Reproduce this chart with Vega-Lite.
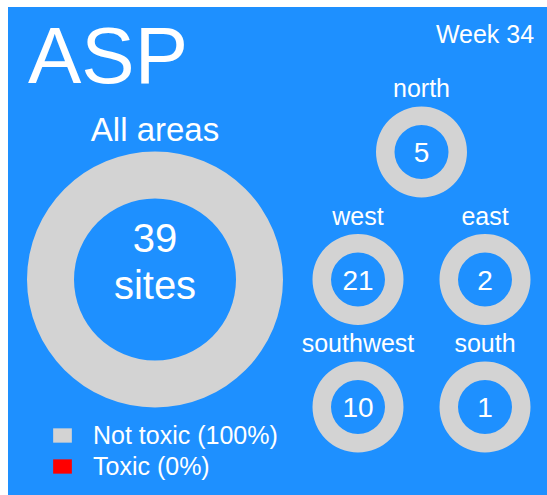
{
  "$schema": "https://vega.github.io/schema/vega-lite/v6.json",
  "width": 547,
  "height": 495,
  "autosize": {"type": "fit", "contains": "padding"},
  "padding": {"left": 8, "top": 7, "right": 0, "bottom": 0},
  "background": "white",
  "config": {
    "view": {"stroke": null, "fill": "#1E90FF"},
    "text": {"font": "Liberation Sans", "color": "white"}
  },
  "datasets": {
    "sites": [
      {"area": "All areas", "col": 0, "row": 1, "status": "Not toxic (100%)", "sites": 39},
      {"area": "All areas", "col": 0, "row": 1, "status": "Toxic (0%)", "sites": 0},
      {"area": "north", "col": 2, "row": 0, "status": "Not toxic (100%)", "sites": 5},
      {"area": "north", "col": 2, "row": 0, "status": "Toxic (0%)", "sites": 0},
      {"area": "west", "col": 1, "row": 1, "status": "Not toxic (100%)", "sites": 21},
      {"area": "west", "col": 1, "row": 1, "status": "Toxic (0%)", "sites": 0},
      {"area": "east", "col": 3, "row": 1, "status": "Not toxic (100%)", "sites": 2},
      {"area": "east", "col": 3, "row": 1, "status": "Toxic (0%)", "sites": 0},
      {"area": "southwest", "col": 1, "row": 2, "status": "Not toxic (100%)", "sites": 10},
      {"area": "southwest", "col": 1, "row": 2, "status": "Toxic (0%)", "sites": 0},
      {"area": "south", "col": 3, "row": 2, "status": "Not toxic (100%)", "sites": 1},
      {"area": "south", "col": 3, "row": 2, "status": "Toxic (0%)", "sites": 0}
    ],
    "header": [{"indicator": "ASP", "week": "Week 34"}]
  },
  "layer": [
    {
      "data": {"name": "sites"},
      "transform": [
        {"stack": "sites", "groupby": ["area"], "offset": "normalize", "sort": [{"field": "status", "order": "ascending"}], "as": ["t0", "t1"]}
      ],
      "encoding": {
        "x": {"field": "col", "type": "quantitative", "scale": {"domain": [0, 1, 3], "range": [147, 350, 477], "nice": false, "zero": false}, "axis": null},
        "y": {"field": "row", "type": "quantitative", "scale": {"domain": [0, 2], "range": [145, 400], "nice": false, "zero": false}, "axis": null},
        "theta": {"field": "t0", "type": "quantitative", "scale": {"domain": [0, 1], "range": [0, 6.283185307179586]}},
        "theta2": {"field": "t1"},
        "color": {
          "field": "status",
          "type": "nominal",
          "scale": {"domain": ["Not toxic (100%)", "Toxic (0%)"], "range": ["#D3D3D3", "#FF0000"]},
          "legend": {
            "orient": "none",
            "legendX": 42,
            "legendY": 416,
            "title": null,
            "symbolType": "M-1,-0.765H1V0.765H-1Z",
            "symbolSize": 350,
            "symbolStrokeWidth": 0,
            "labelColor": "white",
            "labelFont": "Liberation Sans",
            "labelFontSize": 25,
            "labelOffset": 18,
            "rowPadding": 5,
            "labelLimit": 400
          }
        }
      },
      "layer": [
        {
          "transform": [{"filter": "datum.area === 'All areas'"}],
          "mark": {"type": "arc", "outerRadius": 128, "innerRadius": 81}
        },
        {
          "transform": [{"filter": "datum.area !== 'All areas'"}],
          "mark": {"type": "arc", "outerRadius": 45.5, "innerRadius": 27}
        }
      ]
    },
    {
      "data": {"name": "sites"},
      "transform": [
        {"aggregate": [{"op": "sum", "field": "sites", "as": "total"}], "groupby": ["area", "col", "row"]}
      ],
      "encoding": {
        "x": {"field": "col", "type": "quantitative"},
        "y": {"field": "row", "type": "quantitative"}
      },
      "layer": [
        {
          "transform": [{"filter": "datum.area !== 'All areas'"}],
          "mark": {"type": "text", "fontSize": 25, "baseline": "alphabetic", "align": "center", "dy": -55},
          "encoding": {"text": {"field": "area"}}
        },
        {
          "transform": [{"filter": "datum.area !== 'All areas'"}],
          "mark": {"type": "text", "fontSize": 28, "baseline": "alphabetic", "align": "center", "dy": 10},
          "encoding": {"text": {"field": "total"}}
        },
        {
          "transform": [{"filter": "datum.area === 'All areas'"}],
          "mark": {"type": "text", "fontSize": 33, "baseline": "alphabetic", "align": "center", "dy": -139},
          "encoding": {"text": {"field": "area"}}
        },
        {
          "transform": [{"filter": "datum.area === 'All areas'"}],
          "mark": {"type": "text", "fontSize": 40, "baseline": "alphabetic", "align": "center", "dy": -28},
          "encoding": {"text": {"field": "total"}}
        },
        {
          "transform": [{"filter": "datum.area === 'All areas'"}],
          "mark": {"type": "text", "fontSize": 40, "baseline": "alphabetic", "align": "center", "dy": 19},
          "encoding": {"text": {"value": "sites"}}
        }
      ]
    },
    {
      "data": {"name": "header"},
      "mark": {"type": "text", "fontSize": 80, "baseline": "alphabetic", "align": "left"},
      "encoding": {
        "x": {"datum": -0.6256, "type": "quantitative"},
        "y": {"datum": -0.5412, "type": "quantitative"},
        "text": {"field": "indicator", "type": "nominal"}
      }
    },
    {
      "data": {"name": "header"},
      "mark": {"type": "text", "fontSize": 25, "baseline": "alphabetic", "align": "center"},
      "encoding": {
        "x": {"datum": 3, "type": "quantitative"},
        "y": {"datum": -0.8549, "type": "quantitative"},
        "text": {"field": "week", "type": "nominal"}
      }
    }
  ]
}
